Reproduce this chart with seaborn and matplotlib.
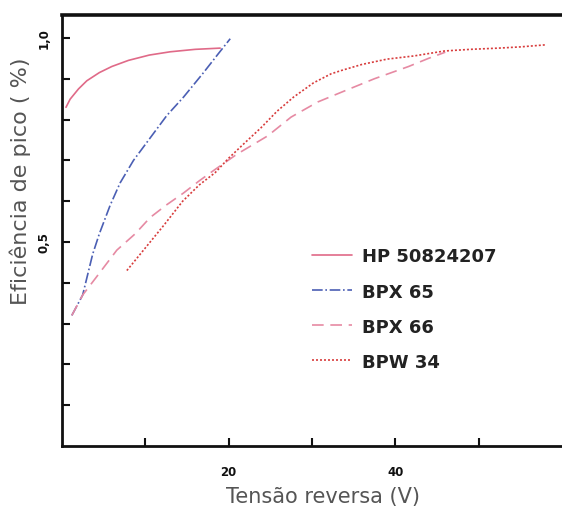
import matplotlib
matplotlib.use("Agg")
import matplotlib.pyplot as plt
import seaborn as sns
from matplotlib.ticker import FixedLocator, FuncFormatter

# curves
hp_x = [0.5, 1, 2, 3, 4.5, 6, 8, 10.5, 13, 16, 19]
hp_y = [0.83, 0.85, 0.875, 0.895, 0.915, 0.93, 0.945, 0.958, 0.966, 0.972, 0.975]

bpx65_x = [1.2, 2.5, 3.7, 4.5, 5.8, 7, 8.6, 10.6, 12.6, 14.6, 17, 18.8, 20.2]
bpx65_y = [0.32, 0.37, 0.47, 0.52, 0.59, 0.645, 0.70, 0.755, 0.81, 0.855, 0.915, 0.962, 0.998]

bpx66_x = [1.2, 2.5, 4, 6.6, 8.8, 10.6, 12.5, 14.6, 16.5, 18.2, 21, 24.7, 27.5,
           30.7, 33.9, 37.5, 41.6, 44, 46]
bpx66_y = [0.32, 0.37, 0.41, 0.48, 0.52, 0.56, 0.59, 0.62, 0.65, 0.675, 0.715, 0.76,
           0.806, 0.843, 0.87, 0.90, 0.93, 0.95, 0.965]

bpw34_x = [7.8, 10, 12.2, 14.5, 16.5, 18.4, 20, 21.8, 23.9, 25.8, 27.8, 30.2, 32.3,
           33.5, 36, 39, 42.3, 45.9, 49, 52.4, 55, 58]
bpw34_y = [0.43, 0.485, 0.54, 0.60, 0.64, 0.67, 0.705, 0.74, 0.78, 0.82, 0.855, 0.89,
           0.912, 0.92, 0.935, 0.948, 0.956, 0.968, 0.972, 0.975, 0.978, 0.983]

x_ticks = [10, 20, 30, 40, 50]
x_labeled = [20, 40]
y_ticks = [0.1, 0.2, 0.3, 0.4, 0.5, 0.6, 0.7, 0.8, 0.9, 1.0]
y_labeled = [0.5, 1.0]

sns.set_style("ticks")
plt.rcParams['font.family'] = ['DejaVu Sans']

fig = plt.figure(figsize=(5.62, 5.10), dpi=100)
ax = fig.add_axes([0.110, 0.1235, 0.89, 0.845])

series = [
    ("HP 50824207", hp_x, hp_y, "#e06a88", "-"),
    ("BPX 65", bpx65_x, bpx65_y, "#4b5fb4", "-."),
    ("BPX 66", bpx66_x, bpx66_y, "#e68aa3", (0, (7, 4))),
    ("BPW 34", bpw34_x, bpw34_y, "#d83c3c", (0, (1.2, 1.2))),
]
for name, xs, ys, col, ls in series:
    sns.lineplot(x=xs, y=ys, ax=ax, color=col, linestyle=ls, linewidth=1.2,
                 label=name, estimator=None, sort=False)

ax.set_xlim(0, 60)
ax.set_ylim(0, 1.056)

ax.xaxis.set_major_locator(FixedLocator(x_ticks))
ax.yaxis.set_major_locator(FixedLocator(y_ticks))
ax.xaxis.set_major_formatter(FuncFormatter(
    lambda v, p: f"{v:.0f}" if round(v) in x_labeled else ""))
ax.yaxis.set_major_formatter(FuncFormatter(
    lambda v, p: f"{v:.1f}".replace(".", ",") if any(abs(v - t) < 1e-6 for t in y_labeled) else ""))

ax.tick_params(direction="in", length=6, width=1.5, colors="#111", labelsize=8.5)
for lab in ax.get_xticklabels():
    lab.set_fontweight("bold")
for lab in ax.get_yticklabels():
    lab.set_fontweight("bold")
    lab.set_rotation(90)
    lab.set_va("center")
ax.tick_params(axis="y", pad=8)
ax.tick_params(axis="x", pad=14)

ax.spines["right"].set_visible(False)
ax.spines["top"].set_linewidth(2.6)
ax.spines["left"].set_linewidth(2.0)
ax.spines["bottom"].set_linewidth(2.0)
for s in ax.spines.values():
    s.set_color("#111")

ax.set_xlabel("Tensão reversa (V)", fontsize=15, color="#555")
ax.set_ylabel("Eficiência de pico ( %)", fontsize=16, color="#555")
ax.xaxis.set_label_coords(0.522, -0.092)
ax.yaxis.set_label_coords(-0.062, 0.617)

leg = ax.legend(loc="center left", bbox_to_anchor=(0.555, 0.392),
                bbox_transform=fig.transFigure, frameon=False,
                prop={"weight": "bold", "size": 13}, handlelength=2.2,
                handletextpad=0.55, labelspacing=0.95, borderpad=0, borderaxespad=0)
for t in leg.get_texts():
    t.set_color("#222")

fig.savefig("out.png", dpi=100)
